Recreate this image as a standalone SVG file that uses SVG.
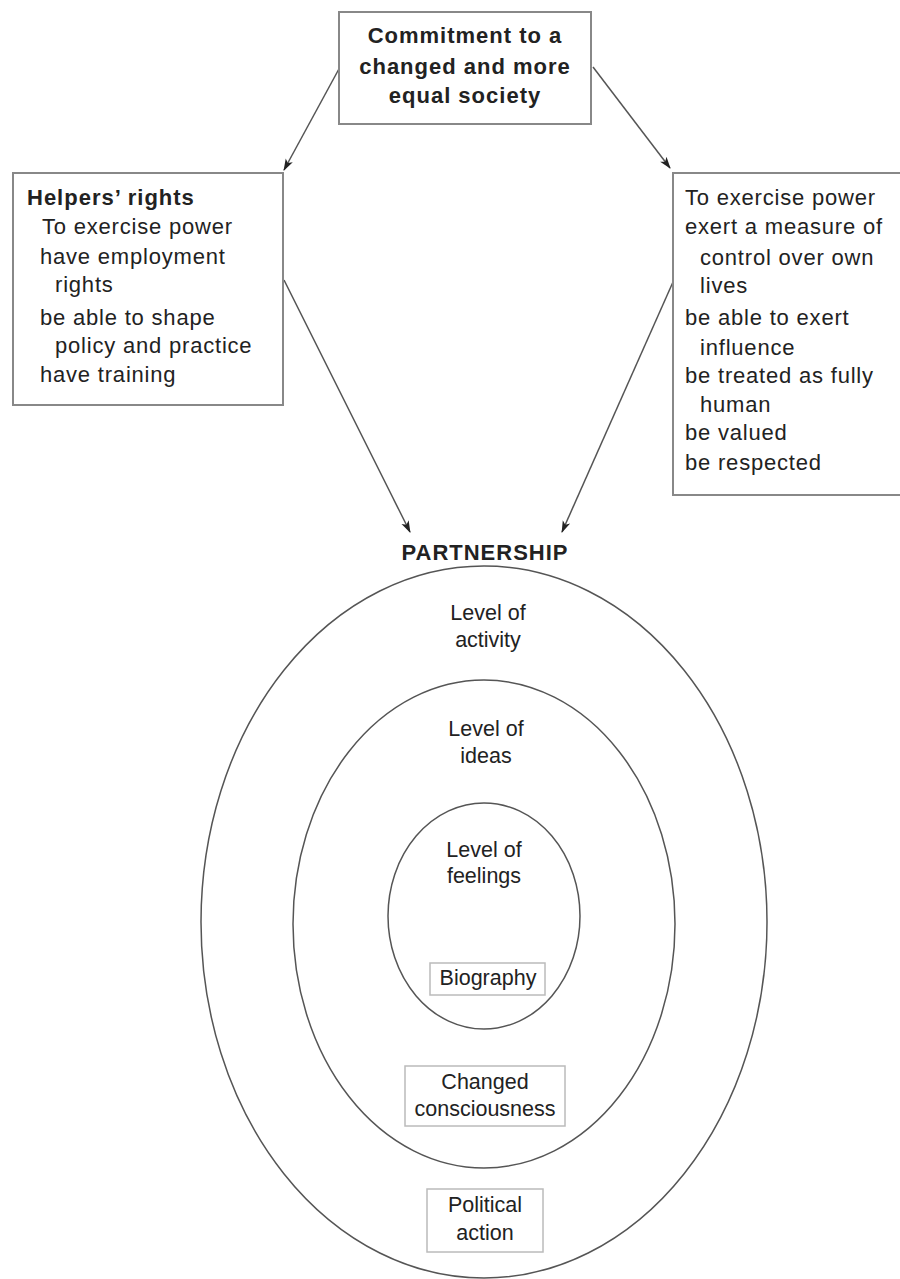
<svg xmlns="http://www.w3.org/2000/svg" width="900" height="1279" viewBox="0 0 900 1279">
<style>
text{font-family:"Liberation Sans",Arial,sans-serif;font-size:22px;fill:#222;letter-spacing:0.8px}
.b{font-weight:bold;letter-spacing:1px}
.c{text-anchor:middle}
.n{letter-spacing:0;font-size:21.5px}
.box{fill:#fff;stroke:#888;stroke-width:2}
.lbox{fill:none;stroke:#bbb;stroke-width:1.5}
.ell{fill:none;stroke:#555;stroke-width:1.5}
.arr{stroke:#555;stroke-width:1.5;fill:none;marker-end:url(#ah)}
</style>
<defs>
<marker id="ah" viewBox="0 0 12 10" refX="11" refY="5" markerWidth="12" markerHeight="10" markerUnits="userSpaceOnUse" orient="auto">
<path d="M0,1 L12,5 L0,9 L3,5 z" fill="#222"/>
</marker>
</defs>
<rect width="900" height="1279" fill="#fff"/>
<g id="connectors">
<line class="arr" x1="340" y1="67" x2="284" y2="170"/>
<line class="arr" x1="593" y1="67" x2="670" y2="168"/>
<line class="arr" x1="284" y1="280" x2="410" y2="532"/>
<line class="arr" x1="673" y1="282" x2="562" y2="532"/>
</g>
<g id="commitment">
<rect class="box" x="339" y="12" width="252" height="112"/>
<text class="b c" x="465" y="43">Commitment to a</text>
<text class="b c" x="465" y="74">changed and more</text>
<text class="b c" x="465" y="103">equal society</text>
</g>
<g id="helpers">
<rect class="box" x="13" y="173" width="270" height="232"/>
<text class="b" x="27" y="205">Helpers’ rights</text>
<text x="42" y="234">To exercise power</text>
<text x="40" y="264">have employment</text>
<text x="55" y="292">rights</text>
<text x="40" y="325">be able to shape</text>
<text x="55" y="353">policy and practice</text>
<text x="40" y="382">have training</text>
</g>
<g id="users">
<rect class="box" x="673" y="173" width="240" height="322"/>
<text x="685" y="205">To exercise power</text>
<text x="685" y="234">exert a measure of</text>
<text x="700" y="265">control over own</text>
<text x="700" y="293">lives</text>
<text x="685" y="325">be able to exert</text>
<text x="700" y="355">influence</text>
<text x="685" y="383">be treated as fully</text>
<text x="700" y="412">human</text>
<text x="685" y="440">be valued</text>
<text x="685" y="470">be respected</text>
</g>
<g id="partnership">
<text class="b c" x="485" y="560">PARTNERSHIP</text>
</g>
<g id="activity">
<ellipse class="ell" cx="484" cy="922" rx="283" ry="356"/>
<text class="c n" x="488" y="620">Level of</text>
<text class="c n" x="488" y="647">activity</text>
</g>
<g id="ideas">
<ellipse class="ell" cx="484" cy="924" rx="191" ry="244"/>
<text class="c n" x="486" y="736">Level of</text>
<text class="c n" x="486" y="763">ideas</text>
</g>
<g id="feelings">
<ellipse class="ell" cx="484" cy="916" rx="96" ry="113"/>
<text class="c n" x="484" y="857">Level of</text>
<text class="c n" x="484" y="883">feelings</text>
</g>
<g id="biography">
<rect class="lbox" x="430" y="963" width="115" height="32"/>
<text class="c n" x="488" y="985">Biography</text>
</g>
<g id="consciousness">
<rect class="lbox" x="405" y="1066" width="160" height="60"/>
<text class="c n" x="485" y="1089">Changed</text>
<text class="c n" x="485" y="1116">consciousness</text>
</g>
<g id="political">
<rect class="lbox" x="427" y="1189" width="116" height="63"/>
<text class="c n" x="485" y="1212">Political</text>
<text class="c n" x="485" y="1240">action</text>
</g>
</svg>
